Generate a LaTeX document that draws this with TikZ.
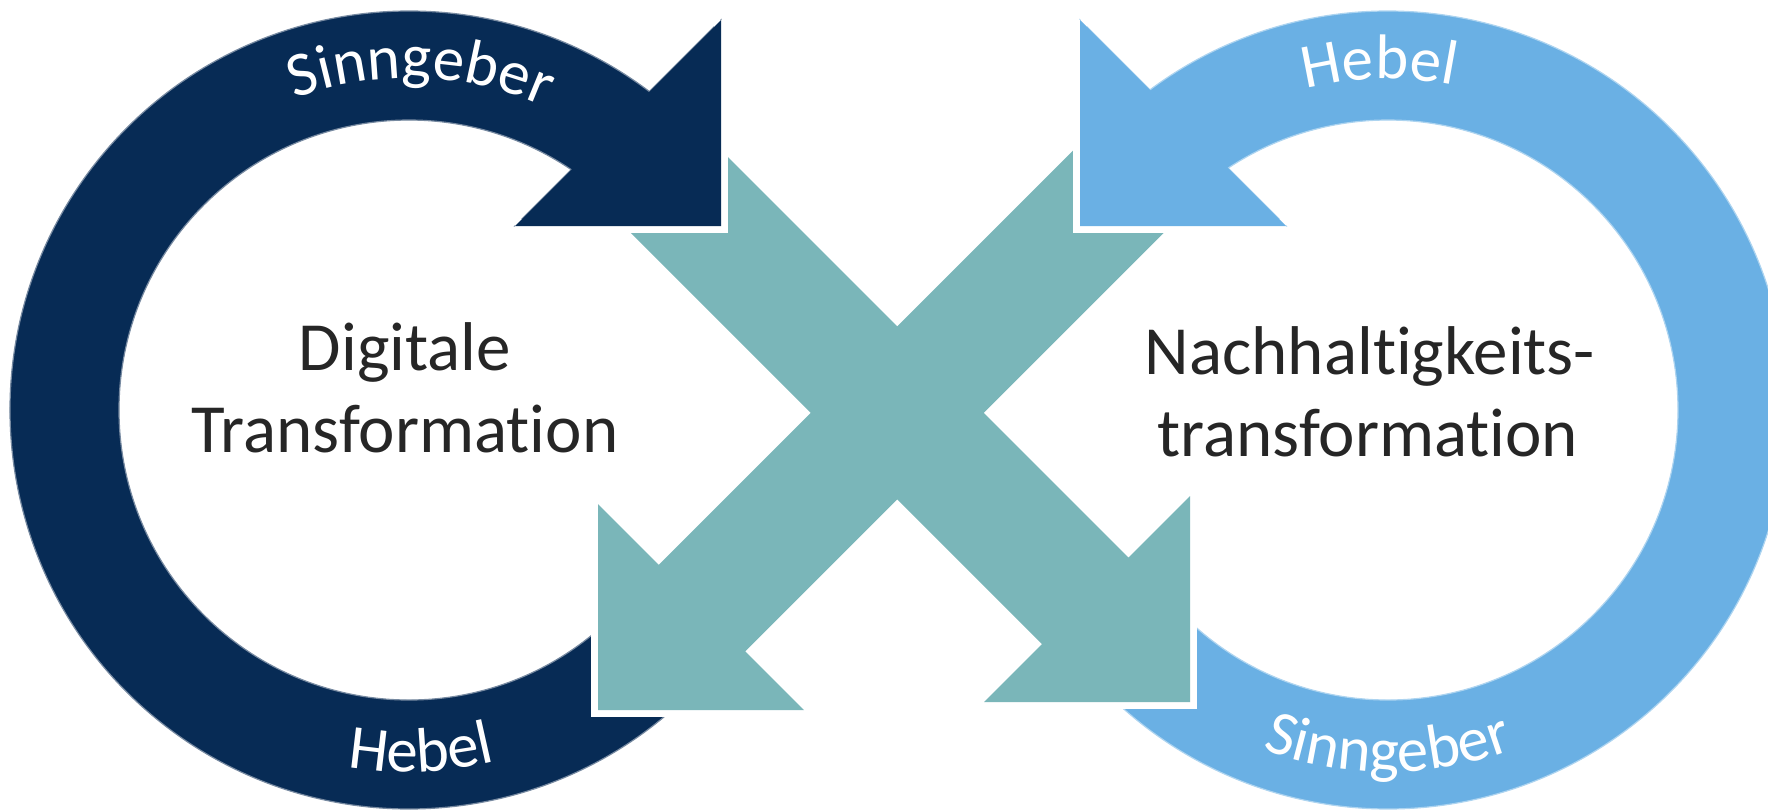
\documentclass[tikz,border=0pt]{standalone}
\usepackage{fontspec}
\setmainfont{Carlito}[Ligatures={NoCommon,NoRare,NoContextual}]
\usetikzlibrary{calc,decorations.text}

\definecolor{ringnavy}{HTML}{072B55}
\definecolor{ringsky}{HTML}{6AB0E4}
\definecolor{crossteal}{HTML}{7AB6B9}
\definecolor{inkgray}{HTML}{262626}

\newcommand\bigtextsize{\fontsize{34.5}{41}\selectfont}
\newcommand\ringlabelsize{\fontsize{31.5}{37}\selectfont}

\begin{document}
\begin{tikzpicture}[x=0.5pt,y=-0.5pt,
  ringfill/.style={fill=#1, draw=#1!55!white, line width=0.6pt},
  gapline/.style={draw=white, line width=7pt, line join=miter},
  crossarrow/.style={fill=crossteal},
  bigtext/.style={font=\bigtextsize, text=inkgray, anchor=base, inner sep=0pt},
  ringtext/.style={decorate, decoration={text along path,
      text={|\ringlabelsize|#1}, text align=center, text color=white}}
]
\path[use as bounding box] (0,0) rectangle (1768,811);
\clip (0,0) rectangle (1768,811);

\coordinate (C1) at (409,410);
\coordinate (C2) at (1388,410);

% left ring (dark), head at the top right, tail hidden under the crossing arrow
\path[ringfill=ringnavy] (721,20) -- ($(C1)+(-52.94:399)$)
  arc[start angle=-52.94, end angle=-315, radius=399]
  -- ($(C1)+(45:290)$)
  arc[start angle=-315, end angle=-55.96, radius=290]
  -- (515,226) -- (721,226) -- cycle;

% right ring (light), head at the top left
\path[ringfill=ringsky] (1080,20) -- ($(C2)+(-126.64:399)$)
  arc[start angle=-126.64, end angle=135, radius=399]
  -- ($(C2)+(135:290)$)
  arc[start angle=135, end angle=-123.47, radius=290]
  -- (1286,226) -- (1080,226) -- cycle;

% crossing arrows
\path[gapline] (1190,496) -- (1190,702) -- (984,702);
\path[crossarrow] (715.5,144.5) -- (1128.5,557.5) -- (1190,496) -- (1190,702)
  -- (984,702) -- (1042,644) -- (629,231) -- cycle;
\path[gapline] (598,504) -- (598,710) -- (804,710);
\path[crossarrow] (1081.75,141.75) -- (658.75,564.75) -- (598,504) -- (598,710)
  -- (804,710) -- (745.25,651.25) -- (1168.25,228.25) -- cycle;

% ring heads lie over the arrow tails
\path[gapline] (721,20) -- (721,226) -- (515,226);
\path[fill=ringnavy] (721,20) -- (721,226) -- (515,226) -- cycle;
\path[gapline] (1080,20) -- (1080,226) -- (1286,226);
\path[fill=ringsky] (1080,20) -- (1080,226) -- (1286,226) -- cycle;

% labels along the rings
\path[ringtext=Sinngeber] ($(C1)+(-128:332)$) arc[start angle=-128, end angle=-48, radius=332];
\path[ringtext=Hebel] ($(C1)+(128:362)$) arc[start angle=128, end angle=48, radius=362];
\path[ringtext=Hebel] ($(C2)+(-131.5:331)$) arc[start angle=-131.5, end angle=-51.5, radius=331];
\path[ringtext=Sinngeber] ($(C2)+(130:362)$) arc[start angle=130, end angle=50, radius=362];

% titles inside the rings
\node[bigtext] (dig) at (405,370) {Digitale};
\node[bigtext] (trf) at (405,452) {Transformation};
\node[bigtext] (nach) at (1370,374) {Nachhaltigkeits-};
\node[bigtext] (trf2) at (1368,456) {transformation};
\end{tikzpicture}
\end{document}
